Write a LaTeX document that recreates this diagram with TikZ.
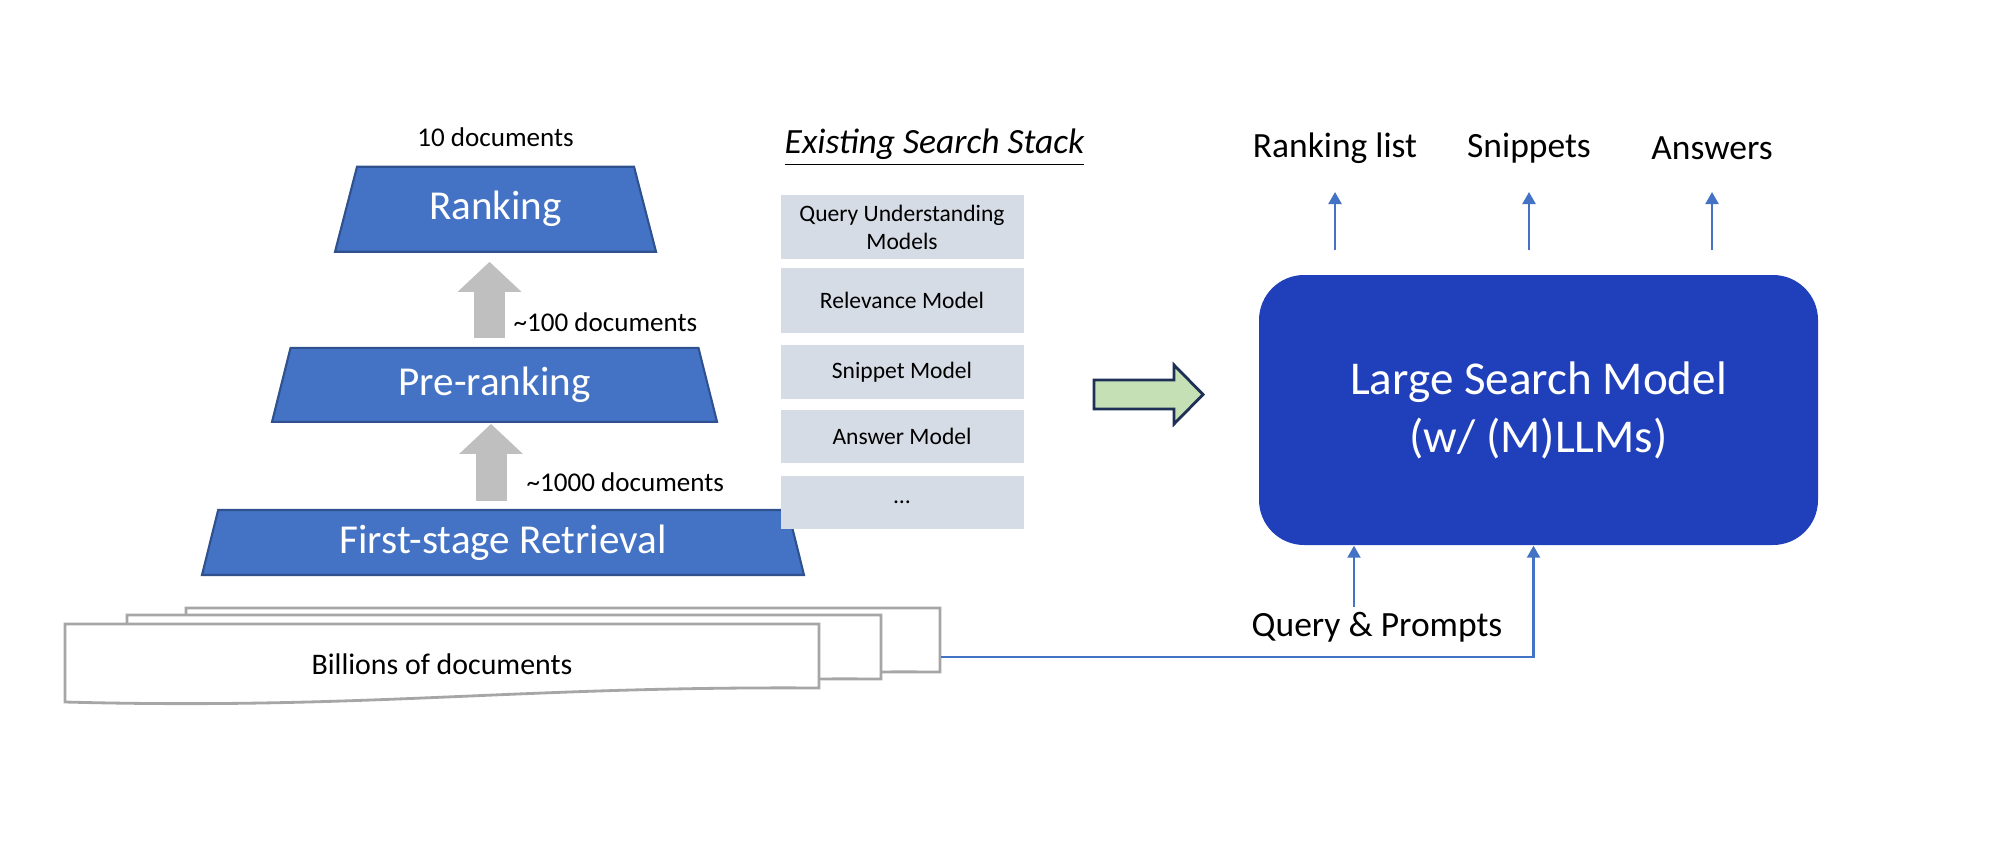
\documentclass[tikz,border=0pt]{standalone}
\usepackage{fontspec}
\setmainfont{Carlito}
\usetikzlibrary{shapes, arrows.meta, positioning, calc}

\definecolor{stageblue}{RGB}{68,114,196}
\definecolor{stageedge}{RGB}{47,82,143}
\definecolor{lsmblue}{RGB}{32,64,187}
\definecolor{stackgray}{RGB}{214,220,229}
\definecolor{pushgray}{RGB}{191,191,191}
\definecolor{sheetgray}{RGB}{166,166,166}
\definecolor{arrowgreen}{RGB}{197,224,180}
\definecolor{arrownavy}{RGB}{31,48,87}

\begin{document}
\begin{tikzpicture}
  \newcommand\stackwidth{2.43cm}
  \newcommand\lblrow{7.00}

  \tikzset{ptr/.style={-{Triangle[width=0.13cm, length=0.12cm]}, draw=stageblue, line width=0.6pt}}
  \tikzset{push/.style={draw=pushgray, line width=0.31cm, -{Triangle[width=0.62cm, length=0.30cm]}}}

  \tikzset{stage/.style={trapezium, trapezium stretches body, draw=stageedge, fill=stageblue, line width=0.6pt, text=white, inner sep=0pt, font=\fontsize{11.7}{14}\selectfont}}
  \tikzset{doclbl/.style={inner sep=0pt, font=\fontsize{7.7}{9}\selectfont}}
  \tikzset{stackbox/.style={fill=stackgray, minimum width=\stackwidth, inner sep=0pt, align=center, font=\fontsize{6.7}{8}\selectfont}}
  \tikzset{sheet/.style={draw=sheetgray, fill=white, line width=0.8pt}}
  \tikzset{lbl/.style={inner sep=0pt, font=\fontsize{10.1}{12}\selectfont}}
  \tikzset{lsmbox/.style={fill=lsmblue, rounded corners=0.45cm, minimum width=5.59cm, minimum height=2.70cm, text=white, align=center, font=\fontsize{13.4}{16.5}\selectfont}}
  \tikzset{bigarrow/.style={draw=arrownavy, fill=arrowgreen, line width=0.8pt}}

  \useasboundingbox (0,0) rectangle (19.9,8.48);

  % pyramid
  \node[stage, minimum width=6.02cm, minimum height=0.65cm, trapezium angle=65.6] at (5.03,3.055) (first) {First-stage Retrieval};
  \node[stage, above=0.86cm of first, xshift=-0.085cm, minimum width=4.45cm, minimum height=0.74cm, trapezium angle=62.5] (pre) {Pre-ranking};
  \node[stage, above=0.94cm of pre, xshift=0.01cm, minimum width=3.21cm, minimum height=0.85cm, trapezium angle=58.3] (rank) {Ranking};

  \draw[push, shorten <=0.09cm, shorten >=0.09cm] ([xshift=-0.05cm]pre.north) -- ([xshift=-0.05cm]pre.north |- rank.south);
  \draw[push, shorten <=0.08cm, shorten >=0.01cm] ([xshift=-0.12cm]first.north) -- ([xshift=-0.12cm]first.north |- pre.south);

  \node[doclbl, above=0.18cm of rank] (top10) {10 documents};
  \node[doclbl, anchor=west] at (5.13,5.26) (top100) {\textasciitilde100 documents};
  \node[doclbl, anchor=west] at (5.26,3.66) (top1000) {\textasciitilde1000 documents};

  % document pile, back to front
  \foreach \dx/\dy in {1.21/0.16, 0.62/0.09, 0/0}{
    \draw[sheet, shift={(0.65+\dx,2.24+\dy)}] (0,0) -- (7.54,0) -- (7.54,-0.64) .. controls (4.5,-0.62) and (3.0,-0.86) .. (0,-0.78) -- cycle;
  }
  \node[inner sep=0pt, font=\fontsize{8.5}{10}\selectfont] at (4.42,1.84) (docs) {Billions of documents};
  \coordinate (docsout) at (9.41,1.91);

  % existing stack
  \node[lbl, font=\fontsize{10.1}{12}\selectfont\itshape] at (9.345,\lblrow) (stackttl) {\underline{Existing Search Stack}};
  \node[stackbox, minimum height=0.64cm] at (9.02,6.21) (st1) {Query Understanding\\Models};
  \foreach \idx/\txt/\boxht/\gap [count=\previndex from 1] in {2/Relevance Model/0.65cm/0.08cm, 3/Snippet Model/0.54cm/0.10cm, 4/Answer Model/0.53cm/0.10cm, 5/\ldots/0.53cm/0.11cm}{
    \node[stackbox, minimum height=\boxht, below=\gap of st\previndex] (st\idx) {\txt};
  }

  \draw[bigarrow] (10.94,4.68) -- (11.74,4.68) -- (11.74,4.83) -- (12.03,4.535) -- (11.74,4.24) -- (11.74,4.39) -- (10.94,4.39) -- cycle;

  % large search model
  \node[lsmbox] at (15.385,4.38) (lsm) {Large Search Model\\(w/ (M)LLMs)};

  \foreach \i/\x/\txt in {1/13.35/Ranking list, 2/15.29/Snippets, 3/17.12/Answers}{
    \node[lbl] at (\x,\lblrow) (out\i) {\txt};
    \draw[ptr, shorten <=0.24cm, shorten >=0.44cm] (lsm.north -| out\i.center) -- (out\i.center);
  }

  \node[lbl] at (13.77,2.21) (query) {Query \& Prompts};
  \draw[ptr, shorten <=0.20cm] ([xshift=-0.23cm]query.center) -- ([xshift=-0.23cm]query.center |- lsm.south);
  \draw[ptr] (docsout) -| ([xshift=-0.05cm]lsm.south);
\end{tikzpicture}
\end{document}
